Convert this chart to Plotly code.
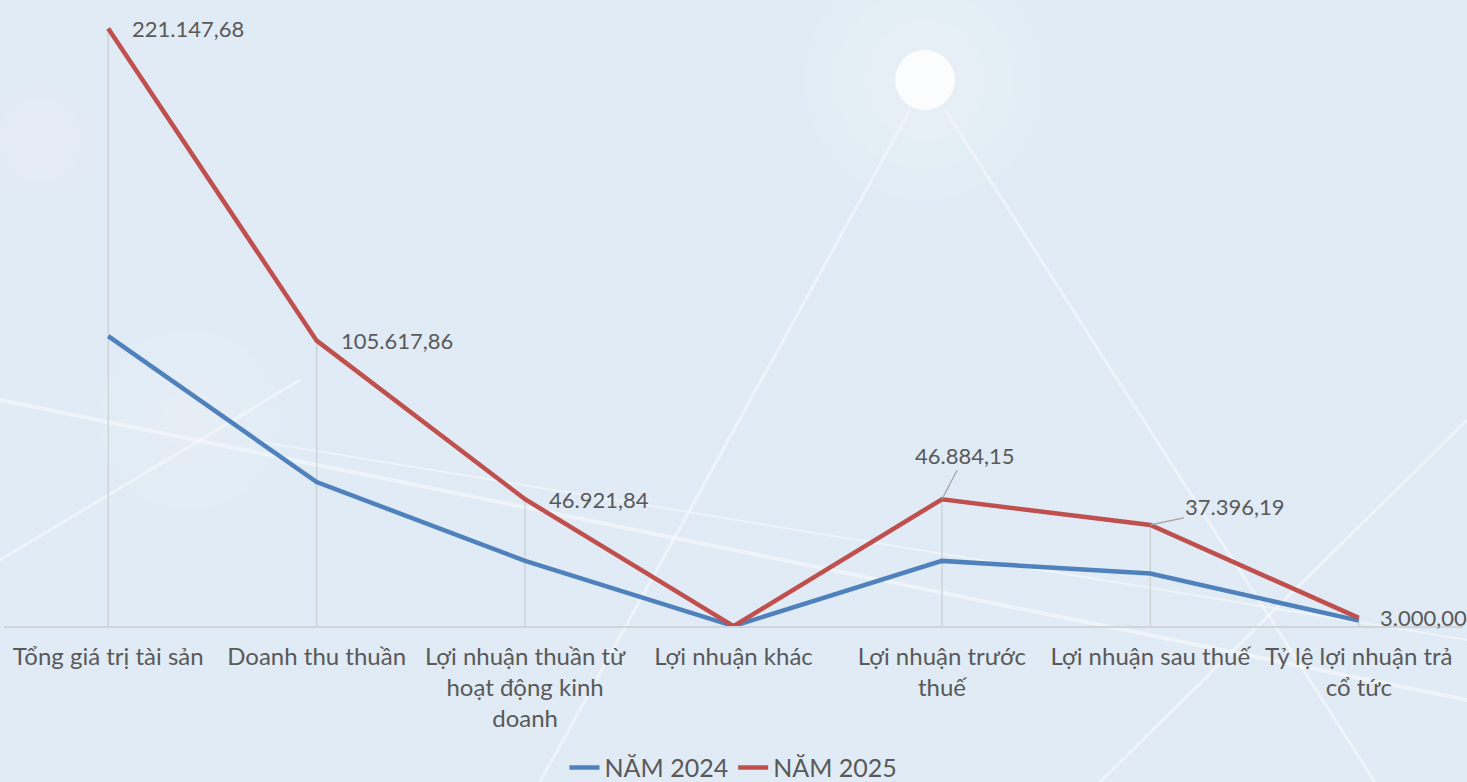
import plotly.graph_objects as go

categories = [
    "Tổng giá trị tài sản",
    "Doanh thu thuần",
    "Lợi nhuận thuần từ<br>hoạt động kinh<br>doanh",
    "Lợi nhuận khác",
    "Lợi nhuận trước<br>thuế",
    "Lợi nhuận sau thuế",
    "Tỷ lệ lợi nhuận trả<br>cổ tức",
]
values_2024 = [107300, 53300, 24100, -20, 24100, 19400, 2000]
values_2025 = [221147.68, 105617.86, 46921.84, -37.68, 46884.15, 37396.19, 3000.00]
labels_2025 = ["221.147,68", "105.617,86", "46.921,84", "-37,68", "46.884,15", "37.396,19", "3.000,00"]

BLUE = "#4f81bd"
RED = "#c0504d"
TXT = "#595959"
FONT = "Lato"

W, H = 1467, 782
L, R, T, B = 4, 4, 10, 156


def px(x, y):
    # page pixel -> paper coords (for the decorative background only)
    return (x - L) / (W - L - R), (H - B - y) / (H - T - B)


fig = go.Figure()

# drop lines (excel style) from the highest point down to the axis
dx, dy = [], []
for c, a, b in zip(categories, values_2024, values_2025):
    dx += [c, c, None]
    dy += [0, max(a, b), None]
fig.add_trace(go.Scatter(x=dx, y=dy, mode="lines", line=dict(color="#c9ced3", width=1.2),
                         showlegend=False, hoverinfo="skip"))

fig.add_trace(go.Scatter(x=categories, y=values_2024, mode="lines", name="NĂM 2024",
                         line=dict(color=BLUE, width=4.5)))
fig.add_trace(go.Scatter(x=categories, y=values_2025, mode="lines", name="NĂM 2025",
                         line=dict(color=RED, width=4.5)))

# data labels for 2025
# (ax, ay) leader offsets for the ones placed above; None = placed to the right
leaders = [None, None, None, (16, -48), (23, -44), (85, -18), None]
shifts = [22, 22, 22, 0, 0, 0, 19]
for c, v, t, ld, sh in zip(categories, values_2025, labels_2025, leaders, shifts):
    if ld is None:
        fig.add_annotation(x=c, y=v, text=t, showarrow=False, xanchor="left", yanchor="middle",
                           xshift=sh, font=dict(family=FONT, size=22, color=TXT))
    else:
        fig.add_annotation(x=c, y=v, text=t, showarrow=True, arrowhead=0, arrowwidth=1.2,
                           arrowcolor="#a0a0a0", ax=ld[0], ay=ld[1], standoff=0,
                           font=dict(family=FONT, size=22, color=TXT))

# background: soft light streaks and glows like the photo behind the chart
streaks = [((910, 110), (540, 782), 3), ((945, 110), (1375, 782), 3),
           ((0, 400), (1467, 700), 4), ((250, 440), (1467, 640), 2),
           ((1100, 782), (1467, 420), 3), ((0, 560), (300, 380), 3)]
for (a, b, w) in streaks:
    x0, y0 = px(*a)
    x1, y1 = px(*b)
    fig.add_shape(type="line", xref="paper", yref="paper", x0=x0, y0=y0, x1=x1, y1=y1,
                  line=dict(color="rgba(255,255,255,0.45)", width=w), layer="below")

glows = [(925, 80, 120, 0.06, 8), (190, 420, 90, 0.05, 6), (40, 140, 70, 0.04, 5)]
for cx, cy, rmax, op, n in glows:
    for i in range(n):
        r = rmax * (n - i) / n
        x0, y0 = px(cx - r, cy + r)
        x1, y1 = px(cx + r, cy - r)
        fig.add_shape(type="circle", xref="paper", yref="paper", x0=x0, y0=y0, x1=x1, y1=y1,
                      fillcolor=f"rgba(255,255,255,{op})", line=dict(width=0), layer="below")
x0, y0 = px(925 - 30, 80 + 30)
x1, y1 = px(925 + 30, 80 - 30)
fig.add_shape(type="circle", xref="paper", yref="paper", x0=x0, y0=y0, x1=x1, y1=y1,
              fillcolor="rgba(255,255,255,0.8)", line=dict(width=0), layer="below")

fig.update_layout(
    width=W, height=H,
    margin=dict(l=L, r=R, t=T, b=B, autoexpand=False),
    paper_bgcolor="#e0ebf5",
    plot_bgcolor="rgba(0,0,0,0)",
    font=dict(family=FONT, color=TXT),
    showlegend=True,
    legend=dict(orientation="h", x=0.5, xanchor="center", y=-0.23, yanchor="middle",
                font=dict(family=FONT, size=25, color=TXT), bgcolor="rgba(0,0,0,0)"),
    hovermode=False,
)
fig.update_xaxes(type="category", showgrid=False, showline=True, linecolor="#d0d5da", linewidth=2,
                 ticks="", tickfont=dict(family=FONT, size=24, color=TXT), range=[-0.5, 6.5],
                 automargin=False, ticklabelstandoff=8)
fig.update_yaxes(range=[0, 228000], showgrid=False, zeroline=False, showticklabels=False,
                 showline=False, automargin=False)

fig.write_html("out.html", config={"displayModeBar": False},
               post_script="document.body.style.margin='0';document.body.style.overflow='hidden';")
